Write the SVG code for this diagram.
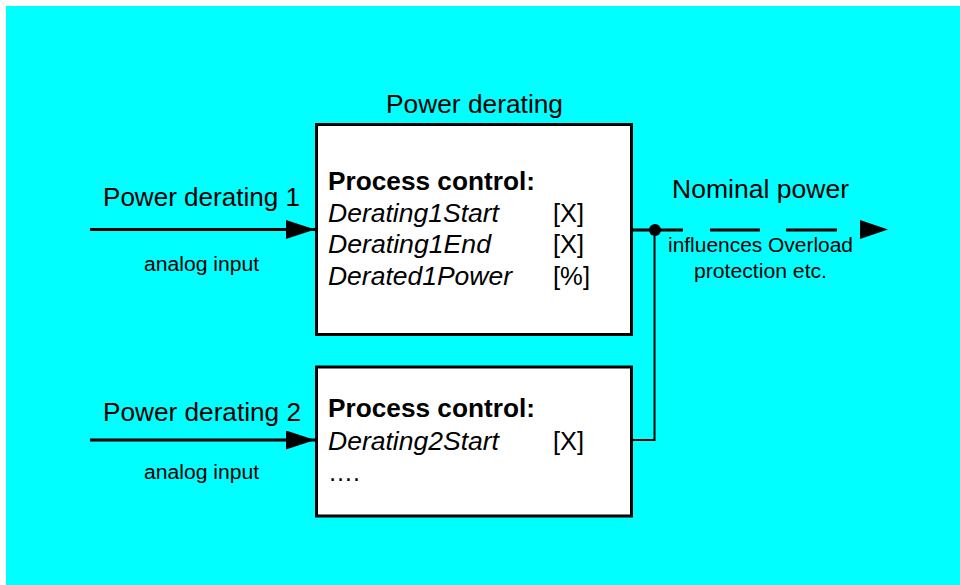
<svg xmlns="http://www.w3.org/2000/svg" width="960" height="585" viewBox="0 0 960 585">
  <style>
    text { font-family: "Liberation Sans", Arial, sans-serif; fill: #000; }
    .big { font-size: 25px; }
    .small { font-size: 20px; }
    .bold { font-weight: bold; }
    .it { font-style: italic; }
    .box { fill: #fff; stroke: #000; stroke-width: 3; }
    .wire { fill: none; stroke: #000; }
  </style>
  <defs>
    <marker id="arrow" markerWidth="29" markerHeight="19" refX="29" refY="9.5" orient="auto" markerUnits="userSpaceOnUse">
      <path d="M0,0 L29,9.5 L0,19 Z" fill="#000"/>
    </marker>
  </defs>

  <!-- page background -->
  <rect x="0" y="0" width="960" height="585" fill="#fff"/>
  <rect x="6" y="6" width="954" height="579" fill="#00ffff"/>

  <!-- title -->
  <text class="big" x="386" y="113" textLength="177" lengthAdjust="spacingAndGlyphs">Power derating</text>

  <!-- input labels -->
  <g id="input1">
    <text class="big" x="103" y="206" textLength="197" lengthAdjust="spacingAndGlyphs">Power derating 1</text>
    <text class="small" x="144" y="271" textLength="115" lengthAdjust="spacingAndGlyphs">analog input</text>
  </g>
  <g id="input2">
    <text class="big" x="103" y="421" textLength="198" lengthAdjust="spacingAndGlyphs">Power derating 2</text>
    <text class="small" x="144" y="479" textLength="115" lengthAdjust="spacingAndGlyphs">analog input</text>
  </g>

  <!-- derating block 1 -->
  <g id="block1">
    <rect class="box" x="316.5" y="124.5" width="315" height="210"/>
    <text class="big bold" x="328" y="190" textLength="207" lengthAdjust="spacingAndGlyphs">Process control:</text>
    <text class="big it" x="328" y="222" textLength="171" lengthAdjust="spacingAndGlyphs">Derating1Start</text>
    <text class="big" x="553" y="222" textLength="31" lengthAdjust="spacingAndGlyphs">[X]</text>
    <text class="big it" x="328" y="253" textLength="163" lengthAdjust="spacingAndGlyphs">Derating1End</text>
    <text class="big" x="553" y="253" textLength="31" lengthAdjust="spacingAndGlyphs">[X]</text>
    <text class="big it" x="328" y="285" textLength="184" lengthAdjust="spacingAndGlyphs">Derated1Power</text>
    <text class="big" x="553" y="285" textLength="37" lengthAdjust="spacingAndGlyphs">[%]</text>
  </g>

  <!-- derating block 2 -->
  <g id="block2">
    <rect class="box" x="316.5" y="367" width="315" height="149"/>
    <text class="big bold" x="328" y="417" textLength="207" lengthAdjust="spacingAndGlyphs">Process control:</text>
    <text class="big it" x="328" y="450" textLength="171" lengthAdjust="spacingAndGlyphs">Derating2Start</text>
    <text class="big" x="553" y="450" textLength="31" lengthAdjust="spacingAndGlyphs">[X]</text>
    <text class="big" x="328" y="481">….</text>
  </g>

  <!-- output labels -->
  <g id="output">
    <text class="big" x="672" y="198" textLength="177" lengthAdjust="spacingAndGlyphs">Nominal power</text>
    <text class="small" x="668" y="252" textLength="185" lengthAdjust="spacingAndGlyphs">influences Overload</text>
    <text class="small" x="694" y="278" textLength="133" lengthAdjust="spacingAndGlyphs">protection etc.</text>
  </g>

  <!-- connectors -->
  <g id="connectors">
    <line class="wire" x1="90" y1="229.5" x2="315" y2="229.5" stroke-width="3" marker-end="url(#arrow)"/>
    <line class="wire" x1="90" y1="440" x2="315" y2="440" stroke-width="3" marker-end="url(#arrow)"/>
    <polyline class="wire" points="632,440 654.5,440 654.5,230" stroke-width="2"/>
    <line class="wire" x1="632" y1="230" x2="860" y2="230" stroke-width="3" stroke-dasharray="51 27 50 26 51 40"/>
    <path d="M860,220 L888,229.5 L860,239 Z" fill="#000"/>
    <circle cx="655" cy="230" r="6" fill="#000"/>
  </g>
</svg>
